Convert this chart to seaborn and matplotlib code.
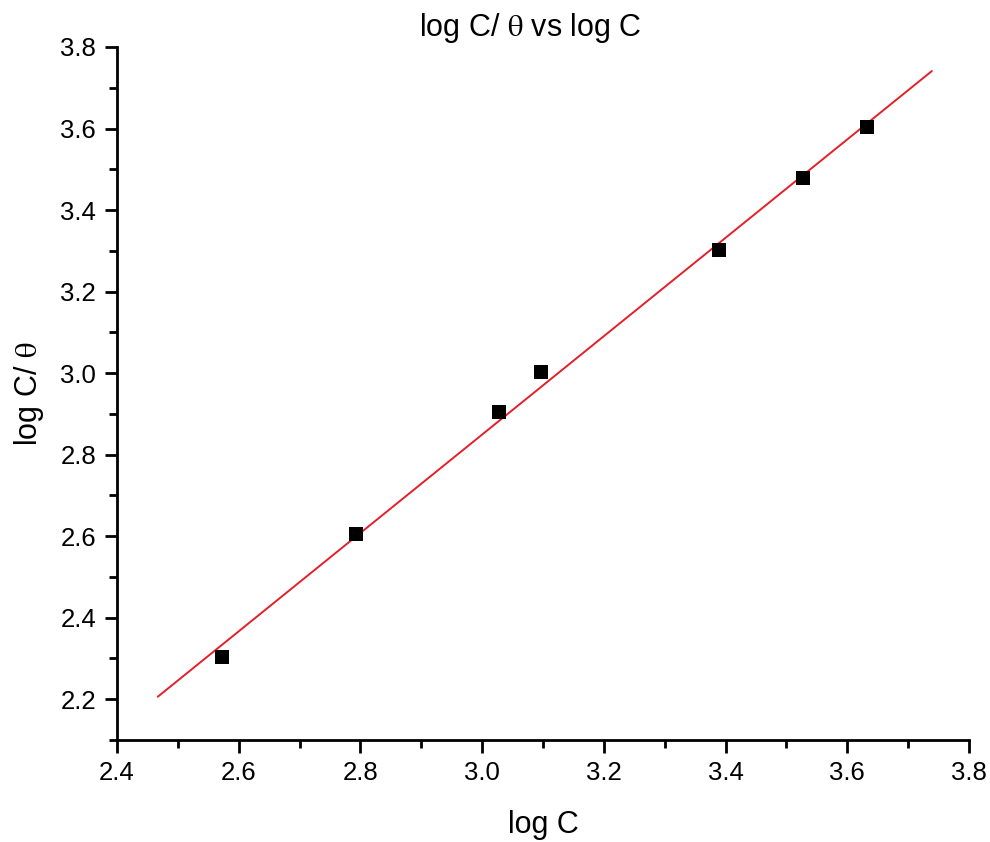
import numpy as np
import pandas as pd
import matplotlib
matplotlib.use("Agg")
import matplotlib.pyplot as plt
from matplotlib.ticker import MultipleLocator
import seaborn as sns

# Data
log_c = [2.573, 2.793, 3.027, 3.097, 3.389, 3.528, 3.633]
log_c_theta = [2.303, 2.605, 2.905, 3.002, 3.302, 3.479, 3.604]

x_ticks = [2.4, 2.6, 2.8, 3.0, 3.2, 3.4, 3.6, 3.8]
y_ticks = [2.2, 2.4, 2.6, 2.8, 3.0, 3.2, 3.4, 3.6, 3.8]

sns.set_theme(style="ticks")
plt.rcParams['font.family'] = ['Liberation Sans', 'DejaVu Sans']
plt.rcParams['mathtext.fontset'] = 'stix'
plt.rcParams['text.color'] = 'black'
plt.rcParams['axes.labelcolor'] = 'black'
plt.rcParams['xtick.color'] = 'black'
plt.rcParams['ytick.color'] = 'black'

df = pd.DataFrame({"x": log_c, "y": log_c_theta})

# Linear fit, extended 10% beyond data range (Origin-style)
slope, intercept = np.polyfit(df["x"], df["y"], 1)
xr = df["x"].max() - df["x"].min()
fx = np.array([df["x"].min() - 0.1 * xr, df["x"].max() + 0.1 * xr])
fit = pd.DataFrame({"x": fx, "y": slope * fx + intercept})

fig = plt.figure(figsize=(9.9, 8.42), dpi=100)
ax = fig.add_axes([117 / 990, 1 - 740 / 842, (969 - 117) / 990, (740 - 47) / 842])

sns.lineplot(data=fit, x="x", y="y", ax=ax, color="#e3202a", linewidth=1.4)
sns.scatterplot(data=df, x="x", y="y", ax=ax, marker="s", s=95, color="black",
                edgecolor="black", linewidth=0, zorder=3)

ax.set_xlim(2.4, 3.8)
ax.set_ylim(2.1, 3.8)
ax.set_xticks(x_ticks)
ax.set_yticks(y_ticks)
ax.set_xticklabels([f"{v:.1f}" for v in x_ticks])
ax.set_yticklabels([f"{v:.1f}" for v in y_ticks])
ax.xaxis.set_minor_locator(MultipleLocator(0.1))
ax.yaxis.set_minor_locator(MultipleLocator(0.1))

for side in ["top", "right"]:
    ax.spines[side].set_visible(False)
for side in ["left", "bottom"]:
    ax.spines[side].set_linewidth(2.0)
    ax.spines[side].set_color("black")
ax.spines["left"].set_bounds(2.1, 3.8)

ax.tick_params(which="major", direction="out", length=9, width=2.0, colors="black",
               labelsize=18.5, pad=6)
ax.tick_params(which="minor", direction="out", length=5.5, width=2.0, colors="black")

ax.set_xlabel("log C", fontsize=22, labelpad=18, color="black")
ax.set_ylabel(r"log C/ $\mathrm{\theta}$", fontsize=22, labelpad=10, color="black")
ax.set_title(r"log C/ $\mathrm{\theta}$ vs log C", fontsize=22, pad=8, x=0.485, color="black")

fig.savefig("out.png", dpi=100, facecolor="white")
